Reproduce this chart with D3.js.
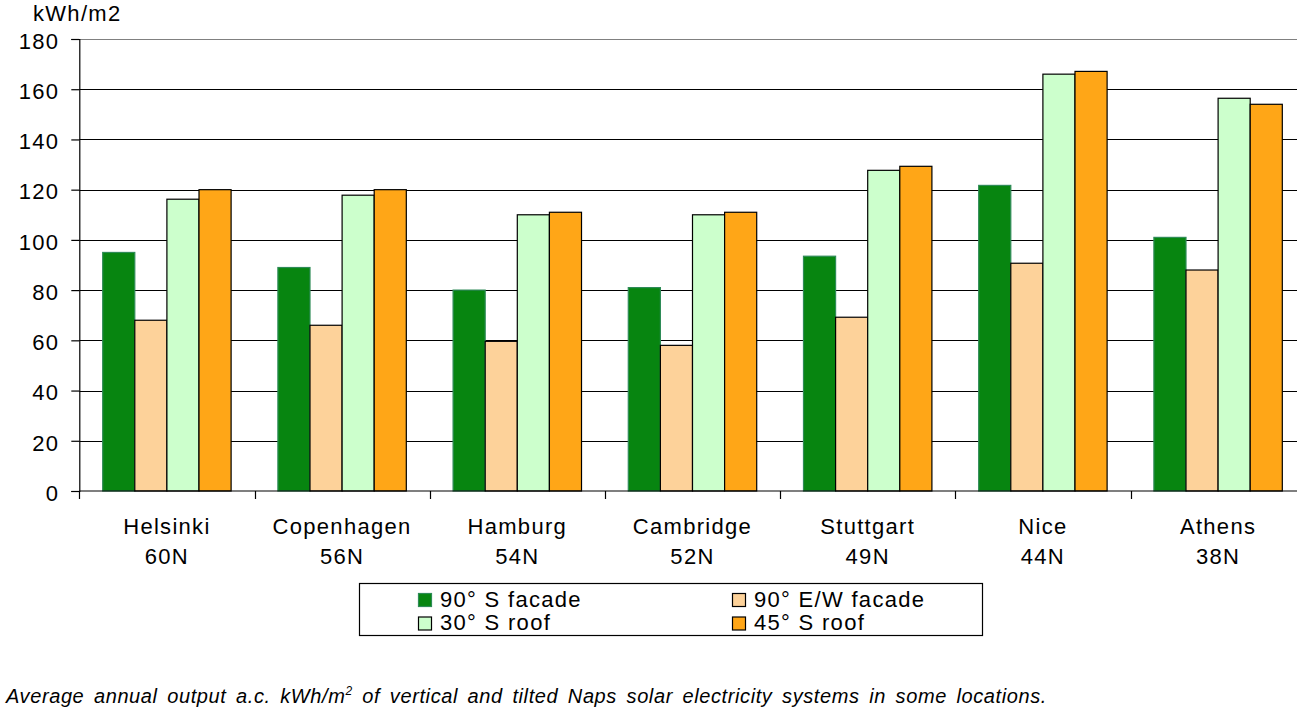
<!DOCTYPE html>
<html>
<head>
<meta charset="utf-8">
<script src="https://cdn.jsdelivr.net/npm/d3@7/dist/d3.min.js"></script>
<style>
  html, body { margin: 0; padding: 0; background: #fff; }
  svg { display: block; font-family: "Liberation Sans", Arial, sans-serif; }
</style>
</head>
<body>
<svg id="chart" width="1297" height="725"></svg>
<script>
// ---- data ----
const categories = ["Helsinki", "Copenhagen", "Hamburg", "Cambridge", "Stuttgart", "Nice", "Athens"];
const latitudes  = ["60N", "56N", "54N", "52N", "49N", "44N", "38N"];
const seriesNames = ["90° S facade", "90° E/W facade", "30° S roof", "45° S roof"];
const sFacade  = [95, 89, 80, 81, 93.5, 121.7, 101];
const ewFacade = [68, 66, 59.6, 58, 69.2, 90.7, 88];
const roof30   = [116.2, 117.8, 110, 110, 127.7, 166, 156.4];
const roof45   = [120, 120, 111, 111, 129.3, 167.1, 154];
const yTicks   = [0, 20, 40, 60, 80, 100, 120, 140, 160, 180];

const seriesValues = [sFacade, ewFacade, roof30, roof45];
const fills   = ["#078510", "#FDD29A", "#CCFFCC", "#FFA617"];
const strokes = ["#2E8B57", "#000", "#000", "#000"];

const FS = 22, LS = 1.3;

const svg = d3.select("#chart");
const plotLeft = 79.3, plotRight = 1305.7, plotTop = 39, plotBottom = 491;

const y = d3.scaleLinear().domain([0, 180]).range([plotBottom, plotTop]);
const x0 = d3.scaleBand().domain(categories).range([plotLeft, plotRight]).padding(0);
const bw = x0.bandwidth();
const x1 = d3.scaleBand().domain(seriesNames).range([bw * 0.1335, bw * 0.8665]).padding(0);

// gridlines
svg.append("g").selectAll("line").data(yTicks.filter(d => d > 0)).join("line")
  .attr("x1", plotLeft).attr("x2", 1297)
  .attr("y1", d => Math.round(y(d)) + 0.5).attr("y2", d => Math.round(y(d)) + 0.5)
  .attr("stroke", d => d === 180 ? "#808080" : "#000").attr("stroke-width", 1.2);

// bars
const rows = categories.map((c, i) => ({ c, vals: seriesValues.map((s, k) => ({ k, name: seriesNames[k], v: s[i] })) }));
svg.append("g").selectAll("g").data(rows).join("g")
  .attr("transform", d => `translate(${x0(d.c)},0)`)
  .selectAll("rect").data(d => d.vals).join("rect")
  .attr("x", d => x1(d.name))
  .attr("width", x1.bandwidth())
  .attr("y", d => y(d.v))
  .attr("height", d => y(0) - y(d.v))
  .attr("fill", d => fills[d.k])
  .attr("stroke", d => strokes[d.k])
  .attr("stroke-width", 1.2);

// y axis
const yAxis = d3.axisLeft(y).tickValues(yTicks).tickSize(8).tickPadding(12).tickFormat(d3.format("d"));
const gy = svg.append("g").attr("transform", `translate(${plotLeft},0)`).call(yAxis);
gy.select(".domain").attr("stroke", "#000").attr("stroke-width", 1.2);
gy.selectAll(".tick line").attr("stroke", "#000").attr("stroke-width", 1.2);
gy.selectAll(".tick text").attr("font-size", FS).attr("letter-spacing", LS).attr("fill", "#000")
  .attr("font-family", "Liberation Sans, Arial, sans-serif").attr("dy", "0.42em");

// x axis baseline + ticks at group boundaries
svg.append("line").attr("x1", plotLeft).attr("x2", 1297)
  .attr("y1", plotBottom).attr("y2", plotBottom).attr("stroke", "#000").attr("stroke-width", 1.2);
svg.append("g").selectAll("line").data(categories).join("line")
  .attr("x1", d => Math.round(x0(d)) + 0.5).attr("x2", d => Math.round(x0(d)) + 0.5)
  .attr("y1", plotBottom).attr("y2", plotBottom + 8).attr("stroke", "#000").attr("stroke-width", 1.2);

// category labels
const lab = svg.append("g").selectAll("text").data(categories).join("text")
  .attr("x", d => x0(d) + bw / 2).attr("y", 534)
  .attr("text-anchor", "middle").attr("font-size", FS).attr("letter-spacing", LS).attr("fill", "#000");
lab.append("tspan").attr("x", d => x0(d) + bw / 2).text(d => d);
lab.append("tspan").attr("x", d => x0(d) + bw / 2).attr("dy", 30).text((d, i) => latitudes[i]);

// y title
svg.append("text").attr("x", 33).attr("y", 21).attr("font-size", FS).attr("letter-spacing", LS)
  .attr("fill", "#000").text("kWh/m2");

// legend
const lg = svg.append("g");
lg.append("rect").attr("x", 359.5).attr("y", 583.5).attr("width", 623).attr("height", 52)
  .attr("fill", "#fff").attr("stroke", "#000").attr("stroke-width", 1.2);
const legPos = [[418, 593], [732, 593], [418, 616.5], [732, 616.5]];
seriesNames.forEach((n, k) => {
  const [lx, ly] = legPos[k];
  lg.append("rect").attr("x", lx + 0.5).attr("y", ly + 0.5).attr("width", 13).attr("height", 13)
    .attr("fill", fills[k]).attr("stroke", strokes[k]).attr("stroke-width", 1.2);
  lg.append("text").attr("x", lx + 22).attr("y", ly + 13.5).attr("font-size", FS).attr("letter-spacing", LS)
    .attr("fill", "#000").text(n);
});

// caption
const cap = svg.append("text").attr("x", 6).attr("y", 703).attr("font-size", 20)
  .attr("letter-spacing", 0.6).attr("font-style", "italic").attr("fill", "#000");
cap.append("tspan").text("Average annual output a.c. kWh/m");
cap.append("tspan").attr("font-size", 12).attr("dy", -8).text("2");
cap.append("tspan").attr("dy", 8).text(" of vertical and tilted Naps solar electricity systems in some locations.");
const natural = cap.node().getComputedTextLength();
const spaces = 15;
const target = 1041;
cap.attr("word-spacing", Math.max(0, (target - natural) / spaces));
</script>
</body>
</html>
